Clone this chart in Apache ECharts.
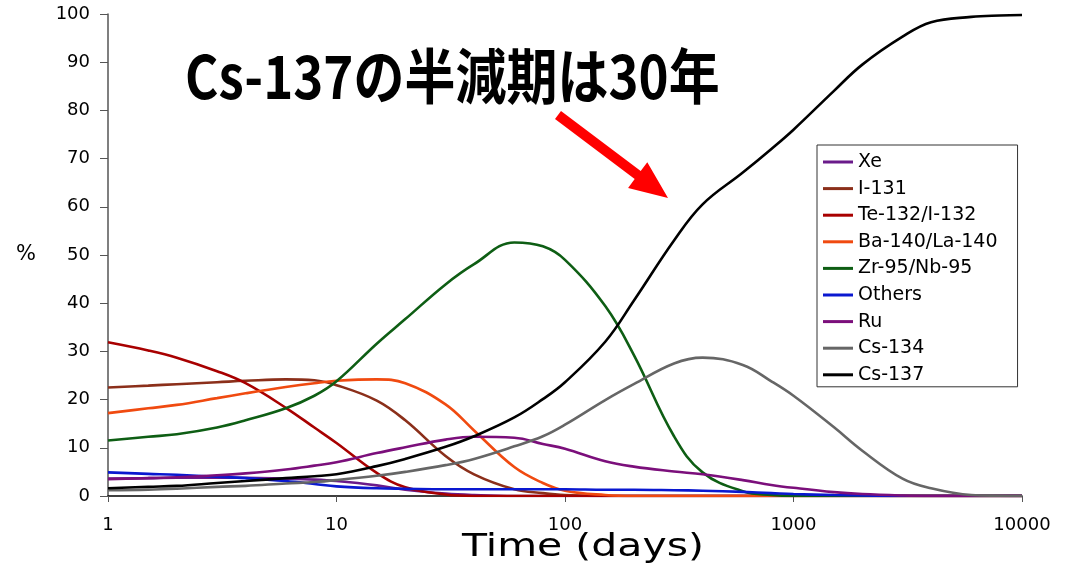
<!DOCTYPE html>
<html>
<head>
<meta charset="utf-8">
<script src="https://cdn.jsdelivr.net/npm/echarts@6/dist/echarts.min.js"></script>
<style>
  html, body { margin: 0; padding: 0; background: #ffffff; }
  #chart { width: 1072px; height: 570px; }
</style>
</head>
<body>
<div id="chart"></div>
<script>
// ---- data ----
const days = [1, 1.5, 2, 3, 4, 6, 8, 10, 15, 20, 30, 40, 60, 80, 100, 150, 200, 300, 400, 600, 800, 1000, 1500, 2000, 3000, 4000, 6000, 8000, 10000];

const xe     = [3.6, 3.7, 3.8, 3.8, 3.8, 3.6, 3.4, 3.1, 2.2, 1.3, 0.5, 0.2, 0, 0, 0, 0, 0, 0, 0, 0, 0, 0, 0, 0, 0, 0, 0, 0, 0];
const i131   = [22.5, 22.9, 23.2, 23.6, 23.9, 24.2, 24.0, 23.0, 19.8, 15.7, 8.3, 4.5, 1.4, 0.6, 0.2, 0, 0, 0, 0, 0, 0, 0, 0, 0, 0, 0, 0, 0, 0];
const te132  = [31.9, 30.2, 28.7, 25.9, 23.4, 18.3, 14.2, 11.0, 4.8, 1.8, 0.3, 0, 0, 0, 0, 0, 0, 0, 0, 0, 0, 0, 0, 0, 0, 0, 0, 0, 0];
const ba140  = [17.2, 18.2, 18.9, 20.3, 21.3, 22.6, 23.4, 23.9, 24.2, 23.4, 19.0, 13.6, 6.0, 2.7, 1.1, 0.2, 0, 0, 0, 0, 0, 0, 0, 0, 0, 0, 0, 0, 0];
const zr95   = [11.5, 12.3, 12.8, 14.2, 15.7, 18.2, 20.8, 23.8, 31.6, 36.7, 43.9, 48.1, 52.6, 51.8, 49.0, 39.4, 29.3, 12.4, 4.9, 1.0, 0.2, 0, 0, 0, 0, 0, 0, 0, 0];
const others = [4.9, 4.6, 4.4, 4.0, 3.7, 3.1, 2.5, 2.0, 1.6, 1.5, 1.4, 1.4, 1.4, 1.4, 1.4, 1.3, 1.3, 1.2, 1.1, 0.85, 0.6, 0.4, 0.2, 0.1, 0, 0, 0, 0, 0];
const ru     = [3.5, 3.7, 3.9, 4.3, 4.7, 5.5, 6.3, 7.0, 8.9, 10.1, 11.7, 12.3, 12.1, 10.8, 9.8, 7.2, 6.1, 5.1, 4.5, 3.3, 2.3, 1.7, 0.8, 0.4, 0.1, 0, 0, 0, 0];
const cs134  = [1.2, 1.3, 1.5, 1.9, 2.1, 2.6, 2.9, 3.3, 4.2, 5.0, 6.4, 7.7, 10.3, 12.4, 14.8, 19.9, 23.2, 27.5, 28.7, 27.2, 23.8, 20.8, 14.3, 9.4, 3.6, 1.6, 0.2, 0.05, 0];
const cs137  = [1.6, 1.9, 2.1, 2.7, 3.1, 3.7, 4.1, 4.5, 6.2, 7.7, 10.2, 12.4, 16.3, 20.1, 23.6, 32.0, 40.5, 53.0, 60.5, 67.1, 72.0, 76.0, 84.0, 89.5, 95.3, 98.3, 99.4, 99.7, 99.8];

const seriesNames = ['Xe', 'I-131', 'Te-132/I-132', 'Ba-140/La-140', 'Zr-95/Nb-95', 'Others', 'Ru', 'Cs-134', 'Cs-137'];
const seriesValues = [xe, i131, te132, ba140, zr95, others, ru, cs134, cs137];
const seriesColors = ['#6A1B8A', '#8B2F1A', '#A80000', '#F04A10', '#0E5E14', '#0A18D0', '#7B0F7B', '#666666', '#000000'];

const xAxisTitle = 'Time (days)';
const yAxisTitle = '%';
const annotation = 'Cs-137の半減期は30年';

// ---- chart ----
const chart = echarts.init(document.getElementById('chart'), null, { renderer: 'canvas' });
const FONT = 'DejaVu Sans';

const option = {
  backgroundColor: '#ffffff',
  animation: false,
  grid: { left: 108, right: 50, top: 14, bottom: 74, containLabel: false, outerBoundsMode: 'none' },
  legend: {
    orient: 'vertical',
    left: 817,
    top: 145,
    data: seriesNames,
    icon: 'rect',
    itemWidth: 30,
    itemHeight: 3,
    itemGap: 6.6,
    padding: [7, 20, 2, 6],
    borderColor: '#333333',
    borderWidth: 1,
    backgroundColor: '#ffffff',
    textStyle: { fontFamily: FONT, fontSize: 19, color: '#000000', lineHeight: 20 }
  },
  xAxis: {
    type: 'log',
    logBase: 10,
    min: 1,
    max: 10000,
    axisLine: { show: true, lineStyle: { color: '#000000', width: 1.5 } },
    axisTick: { show: true, length: 6, lineStyle: { color: '#555555' } },
    minorTick: { show: false },
    splitLine: { show: false },
    axisLabel: {
      margin: 20,
      fontFamily: FONT, fontSize: 18, color: '#000000',
      formatter: v => String(Math.round(v))
    }
  },
  yAxis: {
    type: 'value',
    min: 0,
    max: 100,
    interval: 10,
    name: yAxisTitle,
    nameLocation: 'middle',
    nameRotate: 0,
    nameGap: 72,
    nameTextStyle: { fontFamily: FONT, fontSize: 21, color: '#000000' },
    axisLine: { show: true, lineStyle: { color: '#555555', width: 1.5 } },
    axisTick: { show: true, length: 8, lineStyle: { color: '#555555' } },
    splitLine: { show: false },
    axisLabel: { margin: 18, fontFamily: FONT, fontSize: 18, color: '#000000' }
  },
  series: seriesNames.map((name, k) => ({
    name: name,
    type: 'line',
    data: days.map((d, i) => [d, seriesValues[k][i]]),
    showSymbol: false,
    smooth: 0.4,
    color: seriesColors[k],
    lineStyle: { width: 2.6, color: seriesColors[k] },
    emphasis: { disabled: true }
  })),
  graphic: [
    {
      type: 'text',
      x: 185,
      y: 76,
      scaleX: 0.85,
      style: {
        text: annotation,
        fontFamily: 'Noto Sans CJK JP',
        fontWeight: 'bold',
        fontSize: 60,
        fill: '#000000',
        verticalAlign: 'middle',
        align: 'left'
      },
      z: 100
    },
    {
      type: 'text',
      x: 583,
      y: 548,
      scaleX: 1.28,
      style: {
        text: xAxisTitle,
        fontFamily: FONT,
        fontSize: 32,
        fill: '#000000',
        verticalAlign: 'middle',
        align: 'center'
      },
      z: 100
    },
    {
      type: 'polygon',
      shape: {
        points: [[561, 111], [640.7, 171.1], [647.3, 162.3], [668, 198], [628.1, 187.9], [634.7, 179.1], [555, 119]]
      },
      style: { fill: '#FF0000' },
      z: 100
    }
  ]
};
chart.setOption(option);
</script>
</body>
</html>
